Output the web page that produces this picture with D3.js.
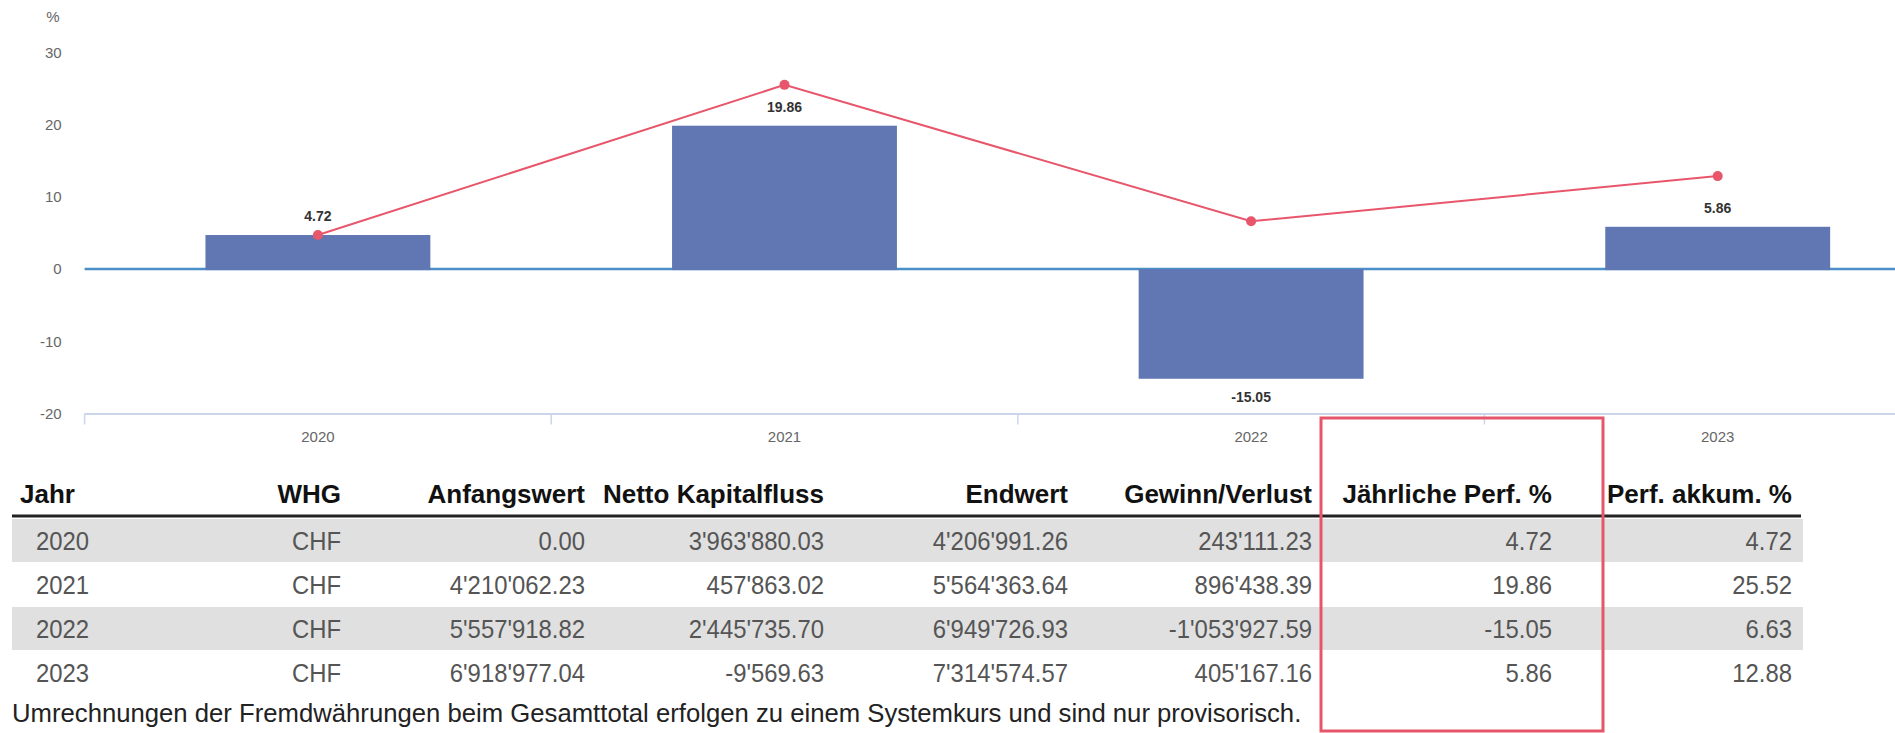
<!DOCTYPE html>
<meta charset="utf-8">
<style>
body { margin: 0; background: #fff; }
text { font-family: "Liberation Sans", Arial, sans-serif; }
</style>
<body>
<svg width="1895" height="733"></svg>
<script src="https://cdnjs.cloudflare.com/ajax/libs/d3/7.8.5/d3.min.js"></script>
<script>

// chart data
var years = ["2020", "2021", "2022", "2023"];
var annualPerf = [4.72, 19.86, -15.05, 5.86];
var cumPerf = [4.72, 25.52, 6.63, 12.88];
var yTicks = [-20, -10, 0, 10, 20, 30];

// table data
var headers = ["Jahr", "WHG", "Anfangswert", "Netto Kapitalfluss", "Endwert", "Gewinn/Verlust", "Jährliche Perf. %", "Perf. akkum. %"];
var currency = ["CHF", "CHF", "CHF", "CHF"];
var startValue = [0.00, 4210062.23, 5557918.82, 6918977.04];
var netFlow = [3963880.03, 457863.02, 2445735.70, -9569.63];
var endValue = [4206991.26, 5564363.64, 6949726.93, 7314574.57];
var gainLoss = [243111.23, 896438.39, -1053927.59, 405167.16];
var footNote = "Umrechnungen der Fremdwährungen beim Gesamttotal erfolgen zu einem Systemkurs und sind nur provisorisch.";

var svg = d3.select("svg");

var locale = d3.formatLocale({decimal: ".", thousands: "'", grouping: [3], currency: ["", ""], minus: "-"});
var fmt = locale.format(",.2f");

var x = d3.scaleBand().domain(years).range([84.6, 1951]);
var y = d3.scaleLinear().domain([-20, 30]).range([413.5, 52.5]);
var barW = x.bandwidth() * 0.482;

// y axis labels
var yAxis = svg.append("g")
  .attr("transform", "translate(84.6,0)")
  .call(d3.axisLeft(y).tickValues(yTicks).tickSize(0).tickPadding(23).tickFormat(locale.format("d")));
yAxis.select(".domain").remove();
yAxis.selectAll("text")
  .attr("fill", "#666")
  .style("font-size", "15px")
  .style("font-family", "Liberation Sans, Arial, sans-serif");

svg.append("text")
  .attr("x", 53)
  .attr("y", 22)
  .attr("text-anchor", "middle")
  .attr("fill", "#666")
  .style("font-size", "15px")
  .text("%");

// x axis line + boundary ticks
svg.append("line")
  .attr("x1", x.range()[0]).attr("x2", 1895)
  .attr("y1", y(-20) + 0.5).attr("y2", y(-20) + 0.5)
  .attr("stroke", "#ccd6eb")
  .attr("stroke-width", 2);

svg.selectAll(".xtick").data(years).enter().append("line")
  .attr("class", "xtick")
  .attr("x1", function(d) { return x(d); })
  .attr("x2", function(d) { return x(d); })
  .attr("y1", y(-20))
  .attr("y2", y(-20) + 11)
  .attr("stroke", "#ccd6eb")
  .attr("stroke-width", 1.5);

svg.selectAll(".xlabel").data(years).enter().append("text")
  .attr("class", "xlabel")
  .attr("x", function(d) { return x(d) + x.bandwidth() / 2; })
  .attr("y", 442)
  .attr("text-anchor", "middle")
  .attr("fill", "#666")
  .style("font-size", "15px")
  .text(function(d) { return d; });

// zero line
svg.append("line")
  .attr("x1", x.range()[0]).attr("x2", 1895)
  .attr("y1", y(0)).attr("y2", y(0))
  .attr("stroke", "#4a8fc8")
  .attr("stroke-width", 2.5);

// bars
svg.selectAll(".bar").data(annualPerf).enter().append("rect")
  .attr("class", "bar")
  .attr("x", function(d, i) { return x(years[i]) + (x.bandwidth() - barW) / 2; })
  .attr("y", function(d) { return y(Math.max(0, d)); })
  .attr("width", barW)
  .attr("height", function(d) { return Math.abs(y(d) - y(0)) + 1; })
  .attr("fill", "#6077b4");

// cumulative line
var line = d3.line()
  .x(function(d, i) { return x(years[i]) + x.bandwidth() / 2; })
  .y(function(d) { return y(d); });

svg.append("path")
  .attr("d", line(cumPerf))
  .attr("fill", "none")
  .attr("stroke", "#e8566c")
  .attr("stroke-width", 2);

svg.selectAll(".dot").data(cumPerf).enter().append("circle")
  .attr("class", "dot")
  .attr("cx", function(d, i) { return x(years[i]) + x.bandwidth() / 2; })
  .attr("cy", function(d) { return y(d); })
  .attr("r", 5)
  .attr("fill", "#e8566c");

// bar value labels
svg.selectAll(".barlabel").data(annualPerf).enter().append("text")
  .attr("class", "barlabel")
  .attr("x", function(d, i) { return x(years[i]) + x.bandwidth() / 2; })
  .attr("y", function(d) { return d >= 0 ? y(d) - 19 : y(d) + 19; })
  .attr("dy", "0.35em")
  .attr("text-anchor", "middle")
  .attr("fill", "#333")
  .style("font-size", "14px")
  .style("font-weight", "bold")
  .text(function(d) { return d.toFixed(2); });

// table
var colX = [20, 341, 585, 824, 1068, 1312, 1552, 1792];
var rowY = function(i) { return 541 + i * 44; };

svg.selectAll(".rowbg").data([0, 2]).enter().append("rect")
  .attr("class", "rowbg")
  .attr("x", 12)
  .attr("y", function(d) { return rowY(d) - 22; })
  .attr("width", 1791)
  .attr("height", 43)
  .attr("fill", "#e0e0e0");

svg.selectAll(".head").data(headers).enter().append("text")
  .attr("class", "head")
  .attr("x", function(d, i) { return colX[i]; })
  .attr("y", 503)
  .attr("text-anchor", function(d, i) { return i == 0 ? "start" : "end"; })
  .attr("fill", "#111")
  .style("font-size", "26px")
  .style("font-weight", "bold")
  .text(function(d) { return d; });

svg.append("line")
  .attr("x1", 12).attr("x2", 1801)
  .attr("y1", 516).attr("y2", 516)
  .attr("stroke", "#222")
  .attr("stroke-width", 3);

var rows = years.map(function(yr, i) {
  return [yr, currency[i], fmt(startValue[i]), fmt(netFlow[i]), fmt(endValue[i]),
          fmt(gainLoss[i]), annualPerf[i].toFixed(2), cumPerf[i].toFixed(2)];
});

var tr = svg.selectAll(".row").data(rows).enter().append("g")
  .attr("class", "row")
  .attr("transform", function(d, i) { return "translate(0," + (rowY(i) + 9) + ")"; });

// cell text is slightly condensed in the original
tr.selectAll("text").data(function(d) { return d; }).enter().append("text")
  .attr("transform", function(d, i) { return "translate(" + (i == 0 ? 36 : colX[i]) + ",0) scale(0.955,1)"; })
  .attr("text-anchor", function(d, i) { return i == 0 ? "start" : "end"; })
  .attr("fill", "#555")
  .style("font-size", "25px")
  .text(function(d) { return d; });

svg.append("text")
  .attr("x", 12)
  .attr("y", 722)
  .attr("fill", "#222")
  .style("font-size", "25.7px")
  .text(footNote);

// highlight box around annual perf column
svg.append("rect")
  .attr("x", 1321)
  .attr("y", 418)
  .attr("width", 282)
  .attr("height", 313)
  .attr("fill", "none")
  .attr("stroke", "#e5566a")
  .attr("stroke-width", 3);

</script>
</body>
